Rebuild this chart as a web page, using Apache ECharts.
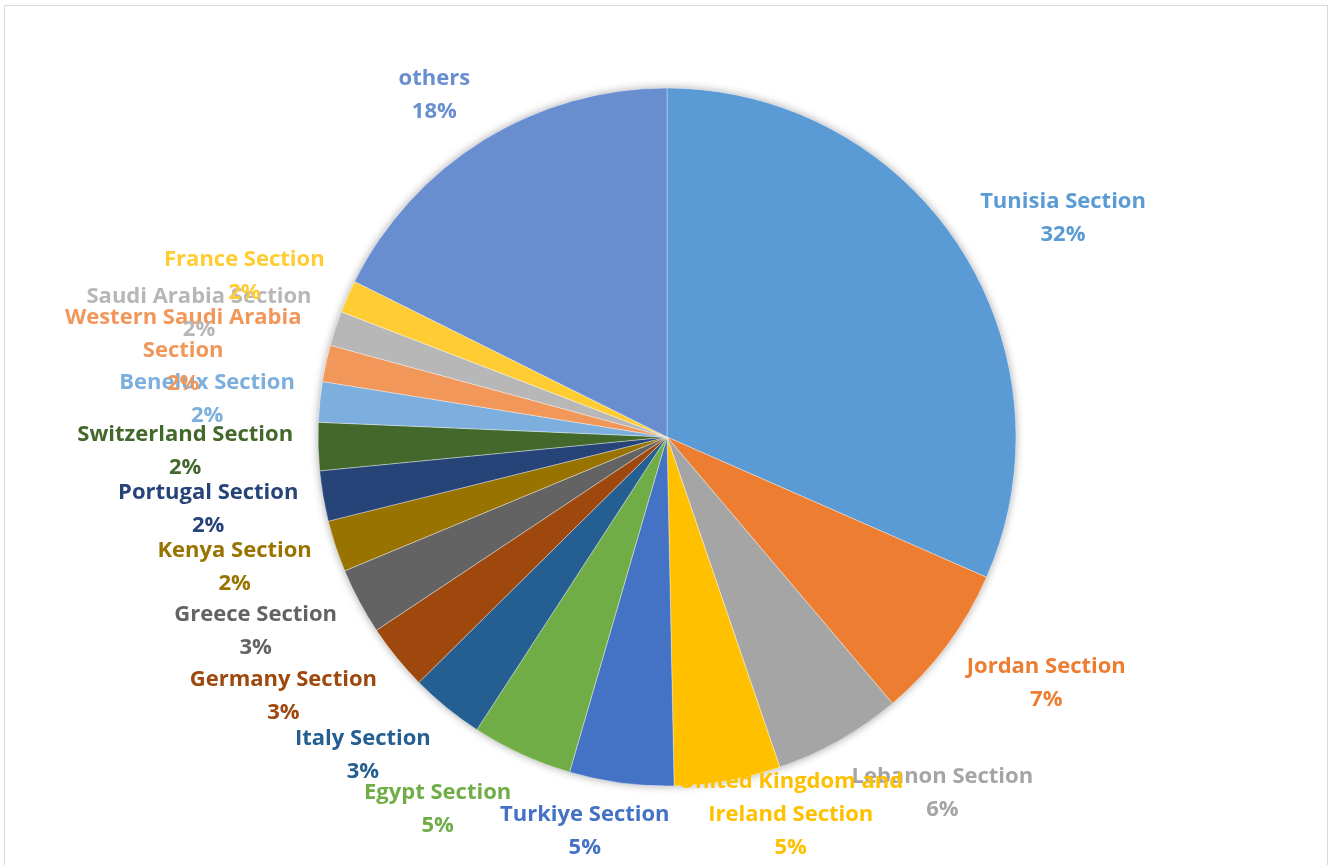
<!DOCTYPE html>
<html>
<head>
<meta charset="utf-8">
<script src="https://cdn.jsdelivr.net/npm/echarts@6/dist/echarts.min.js"></script>
<style>
  html, body { margin: 0; padding: 0; background: #fff; }
  #chart { width: 1335px; height: 865px; }
  #frame { position: absolute; left: 4px; top: 5px; width: 1324px; height: 900px; border: 1px solid #d9d9d9; pointer-events: none; box-sizing: border-box; }
</style>
</head>
<body>
<div id="chart"></div>
<div id="frame"></div>
<script>
var categories = [
  'Tunisia Section', 'Jordan Section', 'Lebanon Section', 'United Kingdom and Ireland Section',
  'Turkiye Section', 'Egypt Section', 'Italy Section', 'Germany Section', 'Greece Section',
  'Kenya Section', 'Portugal Section', 'Switzerland Section', 'Benelux Section',
  'Western Saudi Arabia Section', 'Saudi Arabia Section', 'France Section', 'others'
];
var shares = [31.6, 7.24, 5.94, 4.92, 4.83, 4.67, 3.42, 3.07, 3.08, 2.39, 2.33, 2.22, 1.87, 1.69, 1.61, 1.51, 17.66];
var colors = [
  '#5B9BD5', '#ED7D31', '#A5A5A5', '#FFC000', '#4472C4', '#70AD47', '#255E91', '#9E480E', '#636363',
  '#997300', '#264478', '#43682B', '#7CAFDD', '#F1975A', '#B7B7B7', '#FFCD33', '#698ED0'
];

var CX = 667, CY = 437, R = 349, W = 1335, H = 865;
var total = shares.reduce(function (a, b) { return a + b; }, 0);
var midAngles = [];
(function () {
  var acc = 0;
  for (var i = 0; i < shares.length; i++) {
    midAngles.push((acc + shares[i] / 2) / total * Math.PI * 2);
    acc += shares[i];
  }
})();

function wrap(name, max) {
  var words = name.split(' '), lines = [], cur = '';
  words.forEach(function (w) {
    var t = cur ? cur + ' ' + w : w;
    if (t.length > max && cur) { lines.push(cur); cur = w; } else { cur = t; }
  });
  if (cur) lines.push(cur);
  return lines.join('\n');
}

var chart = echarts.init(document.getElementById('chart'), null, { renderer: 'canvas' });
chart.setOption({
  backgroundColor: '#ffffff',
  animation: false,
  series: [
    {
      type: 'pie',
      silent: true,
      center: [CX, CY],
      radius: R,
      label: { show: false },
      labelLine: { show: false },
      itemStyle: { color: '#ffffff', shadowBlur: 8, shadowColor: 'rgba(0,0,0,0.35)' },
      data: [{ value: 1, name: '' }],
      z: 1
    },
    {
      type: 'pie',
      center: [CX, CY],
      radius: R,
      startAngle: 90,
      clockwise: true,
      avoidLabelOverlap: false,
      z: 2,
      itemStyle: { borderColor: 'rgba(255,255,255,0.6)', borderWidth: 0.6 },
      labelLine: { show: false },
      label: {
        show: true,
        position: 'outside',
        fontFamily: '"Open Sans", Lato, sans-serif',
        fontWeight: 'bold',
        fontSize: 22,
        lineHeight: 33,
        color: 'inherit',
        formatter: function (p) {
          return wrap(p.name, 20) + '\n' + Math.round(p.percent) + '%';
        }
      },
      labelLayout: function (p) {
        var a = midAngles[p.dataIndex];
        var s = Math.sin(a), c = Math.cos(a);
        var px = CX + R * s, py = CY - R * c;
        var w = p.labelRect.width, h = p.labelRect.height;
        var k = Math.max(-1, Math.min(1, 3 * s));
        var x = px + s * 25 + k * w / 2;
        var y = py - c * (24 + h / 2) + 3;
        y = Math.min(y, H - h / 2 - 1);
        return { x: x, y: y, align: 'center', verticalAlign: 'middle' };
      },
      data: categories.map(function (name, i) {
        return { name: name, value: shares[i], itemStyle: { color: colors[i] }, label: { color: colors[i] } };
      })
    }
  ]
});
</script>
</body>
</html>
